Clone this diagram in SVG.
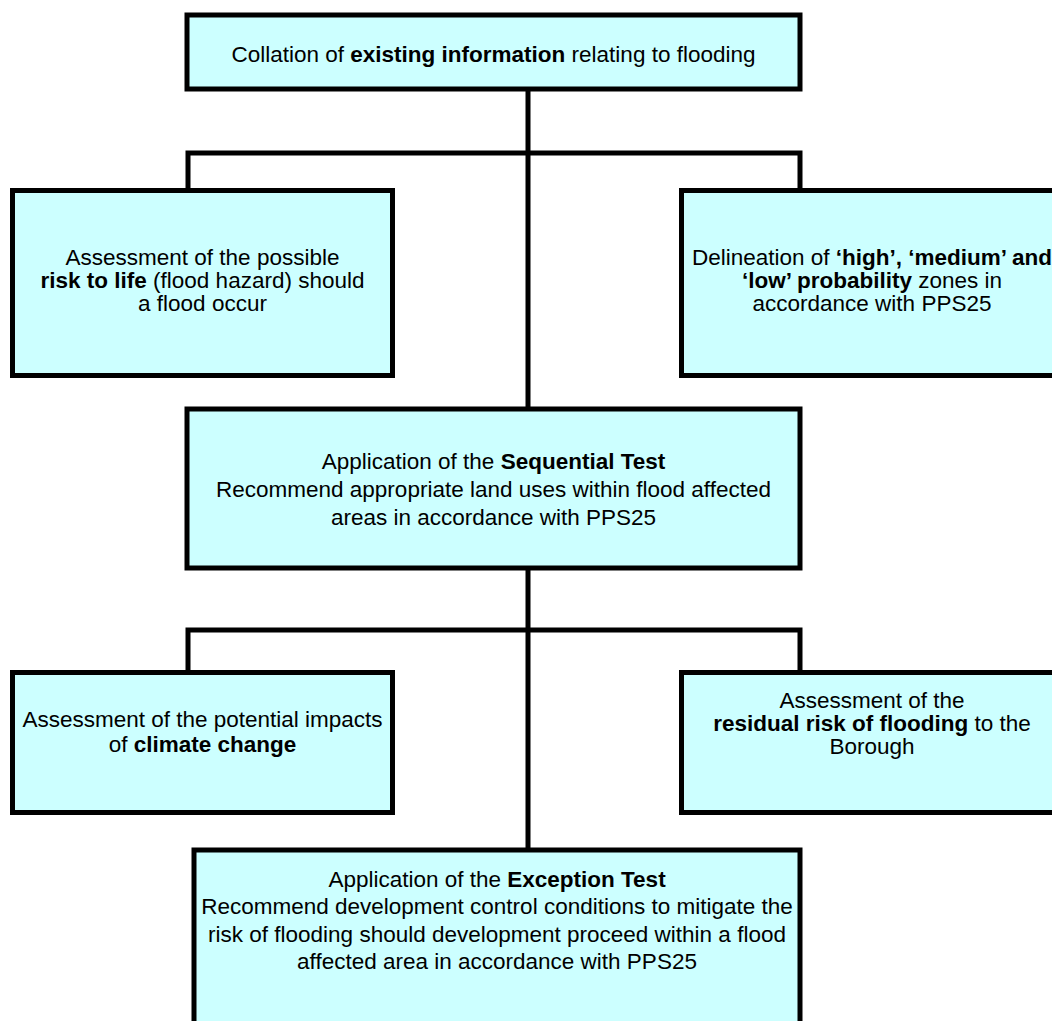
<svg xmlns="http://www.w3.org/2000/svg" width="1052" height="1021" viewBox="0 0 1052 1021">
<style>
.box{fill:#CCFFFF;stroke:#000;stroke-width:5}
.con{fill:none;stroke:#000;stroke-width:5}
text{font-family:"Liberation Sans",Arial,sans-serif;font-size:22.5px;fill:#000;text-anchor:middle}
.b{font-weight:bold}
</style>
<rect width="1052" height="1021" fill="#fff"/>
<g id="connectors">
<path class="con" d="M528 91V409M528 568V850"/>
<path class="con" d="M188 190V153H800V190"/>
<path class="con" d="M188 672V630H800V672"/>
</g>
<g id="n-top">
<rect class="box" x="187" y="15" width="613" height="74"/>
<text x="493.5" y="62">Collation of <tspan class="b">existing information</tspan> relating to flooding</text>
</g>
<g id="n-risk">
<rect class="box" x="12.5" y="190.5" width="380" height="185"/>
<text x="202.5" y="265">Assessment of the possible</text>
<text x="202.5" y="288"><tspan class="b">risk to life</tspan> (flood hazard) should</text>
<text x="202.5" y="311">a flood occur</text>
</g>
<g id="n-zones">
<rect class="box" x="681.5" y="190.5" width="400" height="185"/>
<text x="872" y="265">Delineation of <tspan class="b">‘high’, ‘medium’ and</tspan></text>
<text x="872" y="288"><tspan class="b">‘low’ probability</tspan> zones in</text>
<text x="872" y="311">accordance with PPS25</text>
</g>
<g id="n-seq">
<rect class="box" x="187" y="409" width="613" height="159"/>
<text x="493.5" y="469">Application of the <tspan class="b">Sequential Test</tspan></text>
<text x="493.5" y="497">Recommend appropriate land uses within flood affected</text>
<text x="493.5" y="525">areas in accordance with PPS25</text>
</g>
<g id="n-climate">
<rect class="box" x="12.5" y="672.5" width="380" height="140"/>
<text x="202.5" y="727">Assessment of the potential impacts</text>
<text x="202.5" y="752">of <tspan class="b">climate change</tspan></text>
</g>
<g id="n-residual">
<rect class="box" x="681.5" y="672.5" width="400" height="140"/>
<text x="872" y="708">Assessment of the</text>
<text x="872" y="731"><tspan class="b">residual risk of flooding</tspan> to the</text>
<text x="872" y="754">Borough</text>
</g>
<g id="n-exception">
<rect class="box" x="194" y="850" width="606" height="200"/>
<text x="497" y="887">Application of the <tspan class="b">Exception Test</tspan></text>
<text x="497" y="914">Recommend development control conditions to mitigate the</text>
<text x="497" y="942">risk of flooding should development proceed within a flood</text>
<text x="497" y="969">affected area in accordance with PPS25</text>
</g>
</svg>
